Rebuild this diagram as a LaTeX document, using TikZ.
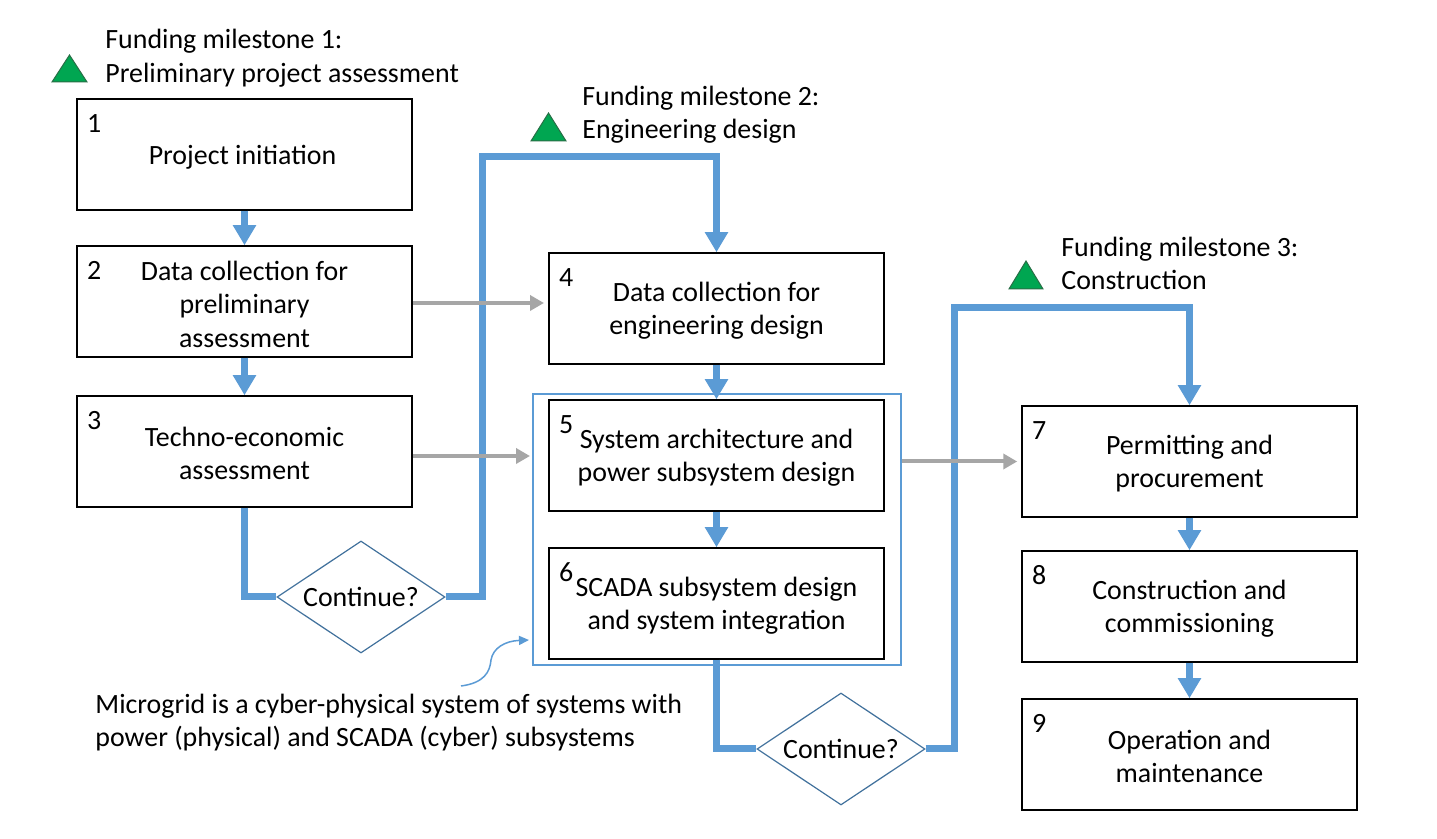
\documentclass[tikz,border=0pt]{standalone}
\usepackage{fontspec}
\setmainfont{Carlito}
\usetikzlibrary{shapes.geometric,arrows.meta}
\definecolor{flowblue}{RGB}{91,155,213}
\definecolor{darkblue}{RGB}{65,113,156}
\definecolor{msgreen}{RGB}{0,166,81}
\definecolor{msgreenline}{RGB}{40,110,70}
\definecolor{arrgray}{RGB}{166,166,166}
\newcommand{\dfont}{\fontsize{13.95}{16.75}\selectfont}
\tikzset{
  stagebox/.style={draw=black, line width=0.75pt, fill=white, minimum width=167.5pt, minimum height=55.5pt, inner sep=0pt},
  boxtext/.style={align=center, inner sep=0pt, font=\dfont},
  numlabel/.style={font=\dfont, inner sep=0pt},
  plaintext/.style={font=\dfont, inner sep=0pt, align=left, anchor=west},
  decision/.style={diamond, draw=darkblue, line width=0.6pt, fill=white, minimum width=84pt, minimum height=56pt, inner sep=0pt},
  flow/.style={draw=flowblue, line width=3.5pt, -{Triangle[length=10pt,width=11pt]}},
  flowline/.style={draw=flowblue, line width=3.5pt},
  grayarrow/.style={draw=arrgray, line width=2pt, -{Triangle[length=7pt,width=7.5pt]}},
  milestone/.style={fill=msgreen, draw=msgreenline, line width=0.5pt},
  container/.style={draw=flowblue, line width=0.7pt, minimum width=184pt, minimum height=135.5pt, inner sep=0pt},
}
\begin{document}
\begin{tikzpicture}[x=0.5pt,y=-0.5pt]
\useasboundingbox (0,0) rectangle (1437,839);
\fill[white] (0,0) rectangle (1437,839);

% container
\node[container] (cont) at (717,529.5) {};

% boxes
\node[stagebox] (b1) at (244.5,154.5) {};
\node[stagebox] (b2) at (244.5,301.5) {};
\node[stagebox] (b3) at (244.5,451.5) {};
\node[stagebox] (b4) at (716.5,308.5) {};
\node[stagebox] (b5) at (716.5,455.5) {};
\node[stagebox] (b6) at (716.5,603.5) {};
\node[stagebox] (b7) at (1189.5,461.5) {};
\node[stagebox] (b8) at (1189.5,606.5) {};
\node[stagebox] (b9) at (1189.5,754.5) {};

% box texts
\node[boxtext] (t1) at ([shift={(-2,2.5)}]b1.center) {Project initiation};
\node[boxtext] (t2) at ([shift={(0,2.5)}]b2.center) {Data collection for\\preliminary\\assessment};
\node[boxtext] (t3) at ([shift={(0,2)}]b3.center) {Techno-economic\\assessment};
\node[boxtext] (t4) at ([shift={(0,2)}]b4.center) {Data collection for\\engineering design};
\node[boxtext] (t5) at ([shift={(0,2)}]b5.center) {System architecture and\\power subsystem design};
\node[boxtext] (t6) at ([shift={(0,2)}]b6.center) {SCADA subsystem design\\and system integration};
\node[boxtext] (t7) at ([shift={(0,2)}]b7.center) {Permitting and\\procurement};
\node[boxtext] (t8) at ([shift={(0,2)}]b8.center) {Construction and\\commissioning};
\node[boxtext] (t9) at ([shift={(0,2)}]b9.center) {Operation and\\maintenance};

% numbers
\node[numlabel] (n1) at ([shift={(18,25)}]b1.north west) {1};
\node[numlabel] (n2) at ([shift={(18,25)}]b2.north west) {2};
\node[numlabel] (n3) at ([shift={(18,25)}]b3.north west) {3};
\node[numlabel] (n4) at ([shift={(18,25)}]b4.north west) {4};
\node[numlabel] (n5) at ([shift={(18,25)}]b5.north west) {5};
\node[numlabel] (n6) at ([shift={(18,25)}]b6.north west) {6};
\node[numlabel] (n7) at ([shift={(18,25)}]b7.north west) {7};
\node[numlabel] (n8) at ([shift={(18,25)}]b8.north west) {8};
\node[numlabel] (n9) at ([shift={(18,25)}]b9.north west) {9};

% decisions
\node[decision] (d1) at (361,597) {};
\node[numlabel] (d1t) at (d1.center) {Continue?};
\node[decision] (d2) at (841,749) {};
\node[numlabel] (d2t) at (d2.center) {Continue?};

% milestones
\draw[milestone] (52,82) -- (69.5,55) -- (87,82) -- cycle;
\node[plaintext] (m1) at (105,58) {Funding milestone 1:\\Preliminary project assessment};
\draw[milestone] (531,141) -- (548.5,113) -- (566,141) -- cycle;
\node[plaintext] (m2) at (582,114.5) {Funding milestone 2:\\Engineering design};
\draw[milestone] (1009,289) -- (1026,261) -- (1043,289) -- cycle;
\node[plaintext] (m3) at (1061,263.5) {Funding milestone 3:\\Construction};

% caption
\node[plaintext] (cap) at (95,722.5) {Microgrid is a cyber-physical system of systems with\\power (physical) and SCADA (cyber) subsystems};

% coordinates for routing
\coordinate (r1) at (482,157);
\coordinate (r2) at (954,308);
\coordinate (g1) at (544,303);
\coordinate (g2) at (530,456);
\coordinate (cs) at (461,686);
\coordinate (ce) at (529,640);

% blue flow
\draw[flow] (b1.south) -- (b2.north);
\draw[flow] (b2.south) -- (b3.north);
\draw[flowline] (b3.south) |- (d1.west);
\draw[flow] (d1.east) -| (r1) -| (b4.north);
\draw[flow] (b4.south) -- (b5.north);
\draw[flow] (b5.south) -- (b6.north);
\draw[flowline] (b6.south) |- (d2.west);
\draw[flow] (d2.east) -| (r2) -| (b7.north);
\draw[flow] (b7.south) -- (b8.north);
\draw[flow] (b8.south) -- (b9.north);

% gray arrows
\draw[grayarrow] (b2.east |- g1) -- (g1);
\draw[grayarrow] (b3.east |- g2) -- (g2);
\draw[grayarrow] (cont.east |- b7.west) -- ([xshift=-2]b7.west);

% curved pointer
\draw[draw=flowblue, line width=0.75pt, -{Triangle[length=5pt,width=4.5pt]}] (cs) .. controls (484,683) and (490,672) .. (491,660) .. controls (493,648) and (505,641) .. (ce);
\end{tikzpicture}
\end{document}
